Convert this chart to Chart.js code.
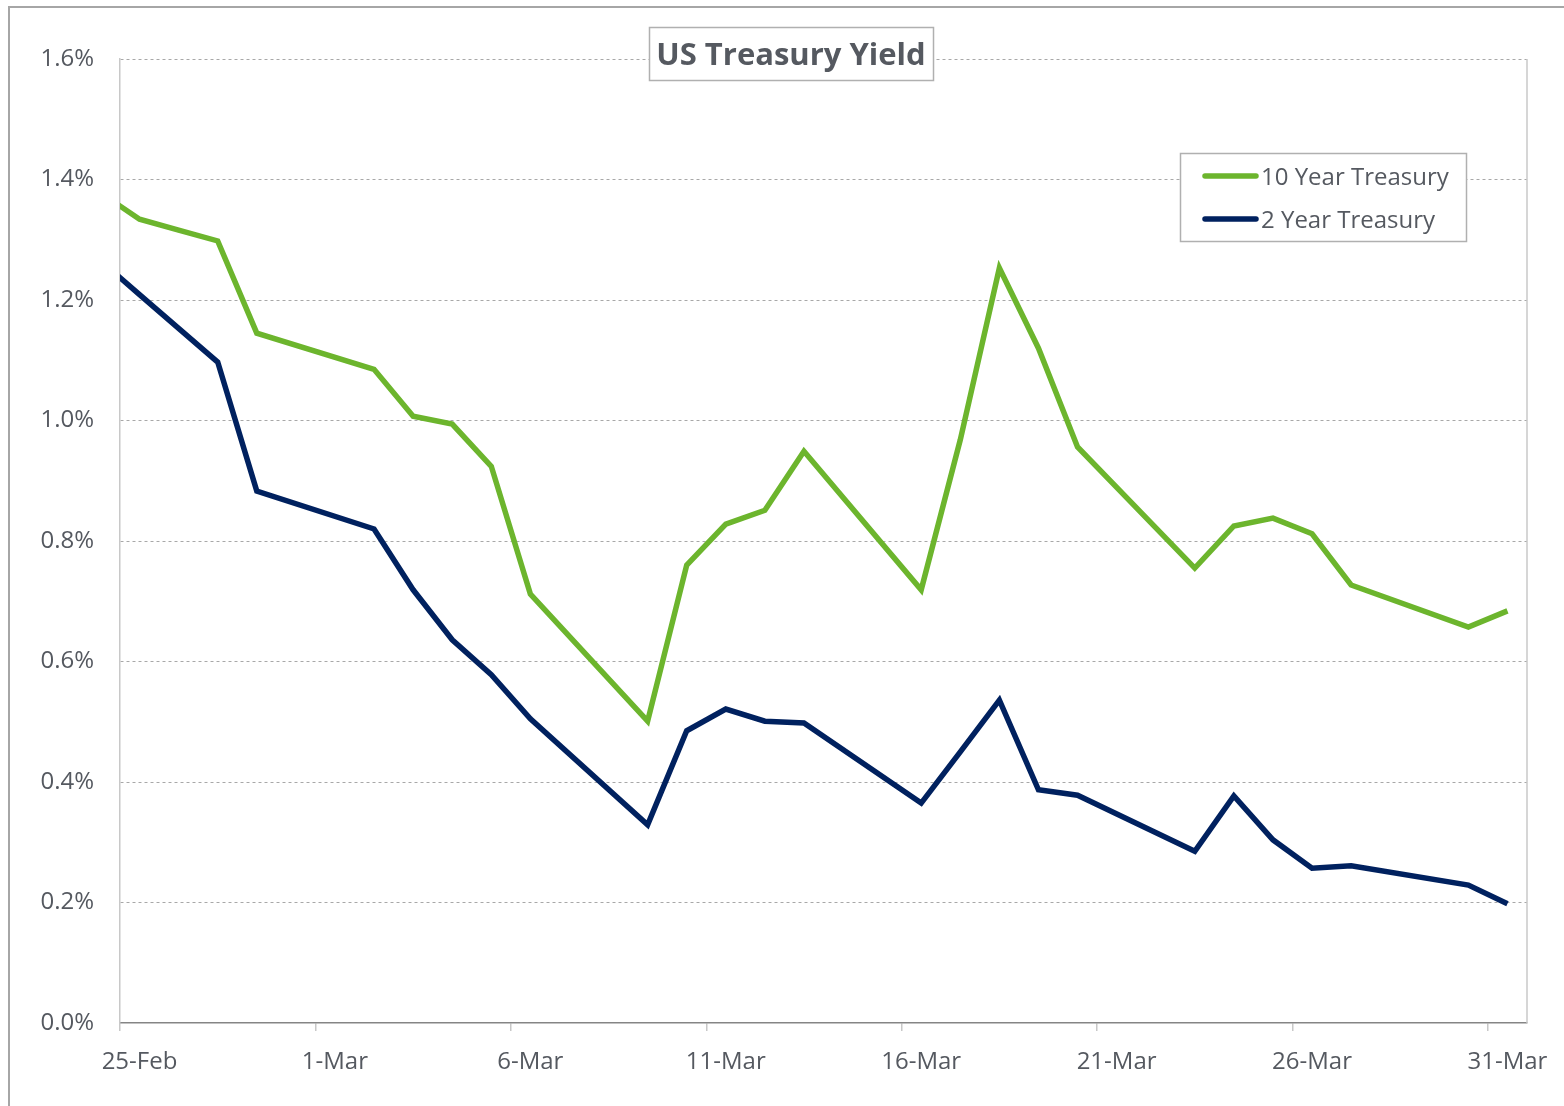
<!DOCTYPE html>
<html>
<head>
<meta charset="utf-8">
<script src="https://cdn.jsdelivr.net/npm/chart.js@4.4.1/dist/chart.umd.min.js"></script>
<style>
  html, body { margin: 0; padding: 0; background: #fff; }
  #wrap { width: 1564px; height: 1106px; position: relative; }
</style>
</head>
<body>
<div id="wrap"><canvas id="chart_yield"></canvas></div>
<script>
(function () {
  // data, trading days
  const dates = ['2020-02-24', '2020-02-25', '2020-02-26', '2020-02-27', '2020-02-28',
    '2020-03-02', '2020-03-03', '2020-03-04', '2020-03-05', '2020-03-06',
    '2020-03-09', '2020-03-10', '2020-03-11', '2020-03-12', '2020-03-13',
    '2020-03-16', '2020-03-17', '2020-03-18', '2020-03-19', '2020-03-20',
    '2020-03-23', '2020-03-24', '2020-03-25', '2020-03-26', '2020-03-27',
    '2020-03-30', '2020-03-31'];
  const tenYear = [1.378, 1.334, 1.316, 1.298, 1.145,
    1.085, 1.007, 0.994, 0.924, 0.712,
    0.501, 0.760, 0.828, 0.851, 0.949,
    0.719, 0.968, 1.253, 1.120, 0.956,
    0.755, 0.825, 0.838, 0.812, 0.727,
    0.657, 0.684];
  const twoYear = [1.265, 1.209, 1.153, 1.097, 0.883,
    0.820, 0.719, 0.636, 0.578, 0.505,
    0.329, 0.485, 0.521, 0.501, 0.498,
    0.365, 0.450, 0.536, 0.387, 0.378,
    0.285, 0.377, 0.304, 0.257, 0.261,
    0.229, 0.198];
  const xTickDays = [0, 5, 10, 15, 20, 25, 30, 35]; // days after 25-Feb
  const yTicks = [0, 0.2, 0.4, 0.6, 0.8, 1.0, 1.2, 1.4, 1.6];

  const startDay = Date.UTC(2020, 1, 25);
  const months = ['Jan', 'Feb', 'Mar', 'Apr', 'May', 'Jun', 'Jul', 'Aug', 'Sep', 'Oct', 'Nov', 'Dec'];
  const dayIndex = s => (Date.parse(s + 'T00:00:00Z') - startDay) / 86400000;
  const dayLabel = v => {
    const d = new Date(startDay + v * 86400000);
    return d.getUTCDate() + '-' + months[d.getUTCMonth()];
  };
  // each value sits in the middle of its day
  const toPoints = vals => vals.map((v, i) => ({ x: dayIndex(dates[i]) + 0.5, y: v }));

  const textColor = '#555960';
  const font = 'Open Sans';

  const frame = {
    id: 'frame',
    beforeDraw(chart) {
      const ctx = chart.ctx;
      ctx.save();
      ctx.fillStyle = '#fff';
      ctx.fillRect(0, 0, chart.width, chart.height);
      ctx.strokeStyle = '#a6a6a6';
      ctx.lineWidth = 2;
      ctx.strokeRect(9, 7, chart.width + 20, chart.height + 20);
      ctx.restore();
    },
    afterDatasetsDraw(chart) {
      const ctx = chart.ctx;
      const a = chart.chartArea;
      ctx.save();
      // right border of plot area
      ctx.strokeStyle = '#c8c8c8';
      ctx.lineWidth = 1.5;
      ctx.beginPath();
      ctx.moveTo(a.right, a.top);
      ctx.lineTo(a.right, a.bottom);
      ctx.stroke();

      // title box
      ctx.font = 'bold 31px "' + font + '"';
      ctx.fillStyle = '#fff';
      ctx.fillRect(649, 27, 284, 53);
      ctx.strokeStyle = '#b0b0b0';
      ctx.lineWidth = 1.5;
      ctx.strokeRect(649.5, 27.5, 284, 53);
      ctx.fillStyle = textColor;
      ctx.textAlign = 'center';
      ctx.textBaseline = 'middle';
      ctx.fillText('US Treasury Yield', 791, 56);

      // legend box
      ctx.fillStyle = '#fff';
      ctx.fillRect(1180, 153, 286, 88);
      ctx.strokeStyle = '#b0b0b0';
      ctx.strokeRect(1180.5, 153.5, 286, 88);
      ctx.font = '24px "' + font + '"';
      ctx.textAlign = 'left';
      chart.data.datasets.forEach((ds, i) => {
        const y = 176 + i * 43;
        ctx.strokeStyle = ds.borderColor;
        ctx.lineWidth = 5.5;
        ctx.lineCap = 'round';
        ctx.beginPath();
        ctx.moveTo(1205, y);
        ctx.lineTo(1256, y);
        ctx.stroke();
        ctx.fillStyle = textColor;
        ctx.fillText(ds.label, 1261, y + 2);
      });
      ctx.restore();
    }
  };

  new Chart(document.querySelector('#chart_yield'), {
    type: 'line',
    data: {
      datasets: [{
        label: '10 Year Treasury',
        data: toPoints(tenYear),
        borderColor: '#6cb52d',
        borderWidth: 5.5,
        pointRadius: 0,
        tension: 0,
        clip: 0
      }, {
        label: '2 Year Treasury',
        data: toPoints(twoYear),
        borderColor: '#00215f',
        borderWidth: 5.5,
        pointRadius: 0,
        tension: 0,
        clip: 0
      }]
    },
    options: {
      responsive: true,
      maintainAspectRatio: false,
      animation: false,
      layout: { padding: { left: 0, top: 59, right: 37, bottom: 0 } },
      plugins: { legend: { display: false }, title: { display: false }, tooltip: { enabled: false } },
      scales: {
        x: {
          type: 'linear',
          min: 0,
          max: 36,
          afterBuildTicks: s => { s.ticks = xTickDays.map(v => ({ value: v })); },
          afterFit: s => { s.height = 83; },
          border: { color: '#858585', width: 1.5 },
          grid: { drawOnChartArea: false, drawTicks: true, tickLength: 8, color: '#c8c8c8', lineWidth: 1.5 },
          ticks: {
            callback: v => dayLabel(v),
            labelOffset: 19.5,
            padding: 17,
            maxRotation: 0,
            autoSkip: false,
            color: textColor,
            font: { family: font, size: 24 }
          }
        },
        y: {
          min: 0,
          max: 1.6,
          afterBuildTicks: s => { s.ticks = yTicks.map(v => ({ value: v })); },
          afterFit: s => { s.width = 120; },
          border: { color: '#c8c8c8', width: 1.5, dash: [3, 3] },
          grid: {
            drawTicks: false,
            color: c => c.tick.value === 0 ? 'rgba(0,0,0,0)' : '#a8a8a8',
            lineWidth: 1
          },
          ticks: {
            callback: v => v.toFixed(1) + '%',
            padding: 26,
            color: textColor,
            font: { family: font, size: 24 },
            z: 1
          }
        }
      }
    },
    plugins: [frame]
  });
})();
</script>
</body>
</html>
